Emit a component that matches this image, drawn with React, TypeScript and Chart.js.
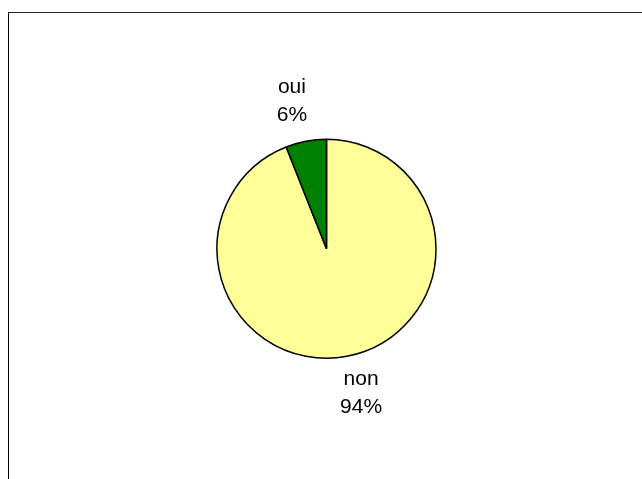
import React, { useEffect, useRef } from "react";
import { Chart, registerables } from "chart.js";

Chart.register(...registerables);

const categories: string[] = ["non", "oui"];
const values: number[] = [94, 6];
const percentLabels: string[] = ["94%", "6%"];
const sliceColors: string[] = ["#FFFF99", "#008000"];

const labelPlugin = {
  id: "sliceLabels",
  afterDraw(chart: any) {
    const ctx = chart.ctx;
    const meta = chart.getDatasetMeta(0);
    ctx.save();
    ctx.font = "21px 'Liberation Sans', Arial, sans-serif";
    ctx.fillStyle = "#000000";
    ctx.textAlign = "center";
    ctx.textBaseline = "alphabetic";
    meta.data.forEach((arc: any, i: number) => {
      const { x, y, startAngle, endAngle, outerRadius } = arc.getProps(
        ["x", "y", "startAngle", "endAngle", "outerRadius"],
        true
      );
      const mid = (startAngle + endAngle) / 2;
      const rx = outerRadius + 75;
      const ry = outerRadius + 39;
      const cx = x + Math.cos(mid) * rx;
      const cy = y + Math.sin(mid) * ry;
      ctx.fillText(categories[i], cx, cy - 10);
      ctx.fillText(percentLabels[i], cx, cy + 18);
    });
    ctx.restore();
  },
};

export default function App() {
  const canvasRef = useRef<HTMLCanvasElement | null>(null);

  useEffect(() => {
    if (!canvasRef.current) return;
    const chart = new Chart(canvasRef.current, {
      type: "pie",
      data: {
        labels: categories,
        datasets: [
          {
            data: values,
            backgroundColor: sliceColors,
            borderColor: "#000000",
            borderWidth: 1.5,
          },
        ],
      },
      options: {
        responsive: false,
        animation: false,
        layout: {
          padding: { left: 216.25, right: 205.25, top: 138.55, bottom: 119.95 },
        },
        plugins: {
          legend: { display: false },
          tooltip: { enabled: false },
        },
      },
      plugins: [labelPlugin],
    });
    return () => chart.destroy();
  }, []);

  return (
    <div>
      <div
        style={{
          position: "absolute",
          left: 8,
          top: 12,
          width: 660,
          height: 500,
          borderLeft: "1px solid #000",
          borderTop: "1.5px solid #222",
          boxSizing: "border-box",
          background: "#fff",
        }}
      />
      <canvas
        ref={canvasRef}
        width={642}
        height={479}
        style={{ position: "absolute", left: 0, top: 0 }}
      />
    </div>
  );
}
